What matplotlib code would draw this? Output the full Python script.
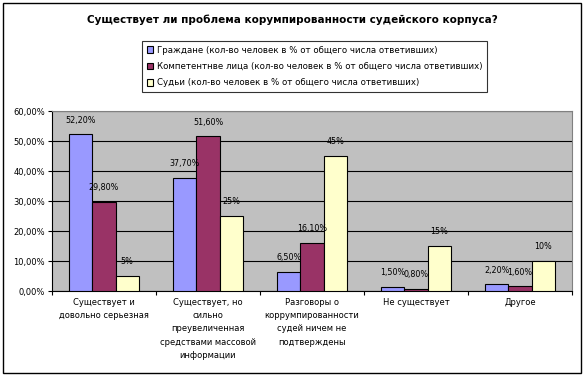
import numpy as np
import matplotlib.pyplot as plt
from matplotlib.patches import Rectangle
from matplotlib.ticker import FuncFormatter

# Data
categories = [
    "Существует и\nдовольно серьезная",
    "Существует, но\nсильно\nпреувеличенная\nсредствами массовой\nинформации",
    "Разговоры о\nкоррумпированности\nсудей ничем не\nподтверждены",
    "Не существует",
    "Другое",
]
citizens = [52.2, 37.7, 6.5, 1.5, 2.2]
experts = [29.8, 51.6, 16.1, 0.8, 1.6]
judges = [5, 25, 45, 15, 10]
citizens_labels = ["52,20%", "37,70%", "6,50%", "1,50%", "2,20%"]
experts_labels = ["29,80%", "51,60%", "16,10%", "0,80%", "1,60%"]
judges_labels = ["5%", "25%", "45%", "15%", "10%"]

series_names = [
    "Граждане (кол-во человек в % от общего числа ответивших)",
    "Компетентнве лица (кол-во человек в % от общего числа ответивших)",
    "Судьи (кол-во человек в % от общего числа ответивших)",
]
colors = ["#9999FF", "#993366", "#FFFFCC"]

plt.rcParams["font.family"] = "DejaVu Sans"

fig = plt.figure(figsize=(5.85, 3.76), dpi=100)
W, H = 585, 376
ax = fig.add_axes([52 / W, 1 - 291 / H, 520 / W, 180 / H])
ax.set_facecolor("#C0C0C0")

# outer border
fig.patches.append(Rectangle((3 / W, 3 / H), 578 / W, 370 / H, transform=fig.transFigure,
                             fill=False, edgecolor="black", linewidth=1))

x = np.arange(len(categories))
bw = 1 / 4.5
all_vals = [citizens, experts, judges]
all_labels = [citizens_labels, experts_labels, judges_labels]
handles = []
for i, (vals, labs) in enumerate(zip(all_vals, all_labels)):
    pos = x + (i - 1) * bw
    b = ax.bar(pos, vals, bw, color=colors[i], edgecolor="black", linewidth=0.8,
               label=series_names[i], zorder=3)
    handles.append(b)
    for p, v, t in zip(pos, vals, labs):
        ax.text(p, v + 3.2, t, ha="center", va="bottom", fontsize=5.8, zorder=4)

ax.set_xlim(-0.5, len(categories) - 0.5)
ax.set_ylim(0, 60)
ax.set_yticks(np.arange(0, 61, 10))
ax.yaxis.set_major_formatter(FuncFormatter(lambda v, p: f"{v:.2f}%".replace(".", ",")))
ax.grid(axis="y", color="black", linewidth=0.8, zorder=1)
ax.set_axisbelow(True)

ax.set_xticks(np.arange(-0.5, len(categories), 1))
ax.set_xticklabels([])
ax.set_xticks(x, minor=True)
ax.set_xticklabels(categories, minor=True, fontsize=6, linespacing=1.6, va="top")
ax.tick_params(axis="x", which="minor", length=0, pad=5)
ax.tick_params(axis="x", which="major", length=3, direction="out")
ax.tick_params(axis="y", labelsize=6, length=3, pad=2)

for s in ["top", "right"]:
    ax.spines[s].set_color("#808080")
for s in ["left", "bottom"]:
    ax.spines[s].set_color("black")

fig.text(0.5, 1 - 20 / H, "Существует ли проблема корумпированности судейского корпуса?",
         ha="center", va="center", fontsize=7.5, fontweight="bold")

leg = fig.legend(handles=handles, loc="upper left", bbox_to_anchor=(138 / W, 1 - 37 / H),
                 fontsize=6.2, frameon=True, fancybox=False, edgecolor="black",
                 handlelength=0.8, handleheight=0.8, handletextpad=0.4,
                 labelspacing=0.85, borderpad=0.5)
leg.get_frame().set_linewidth(0.8)

fig.savefig("out.png", dpi=100)
